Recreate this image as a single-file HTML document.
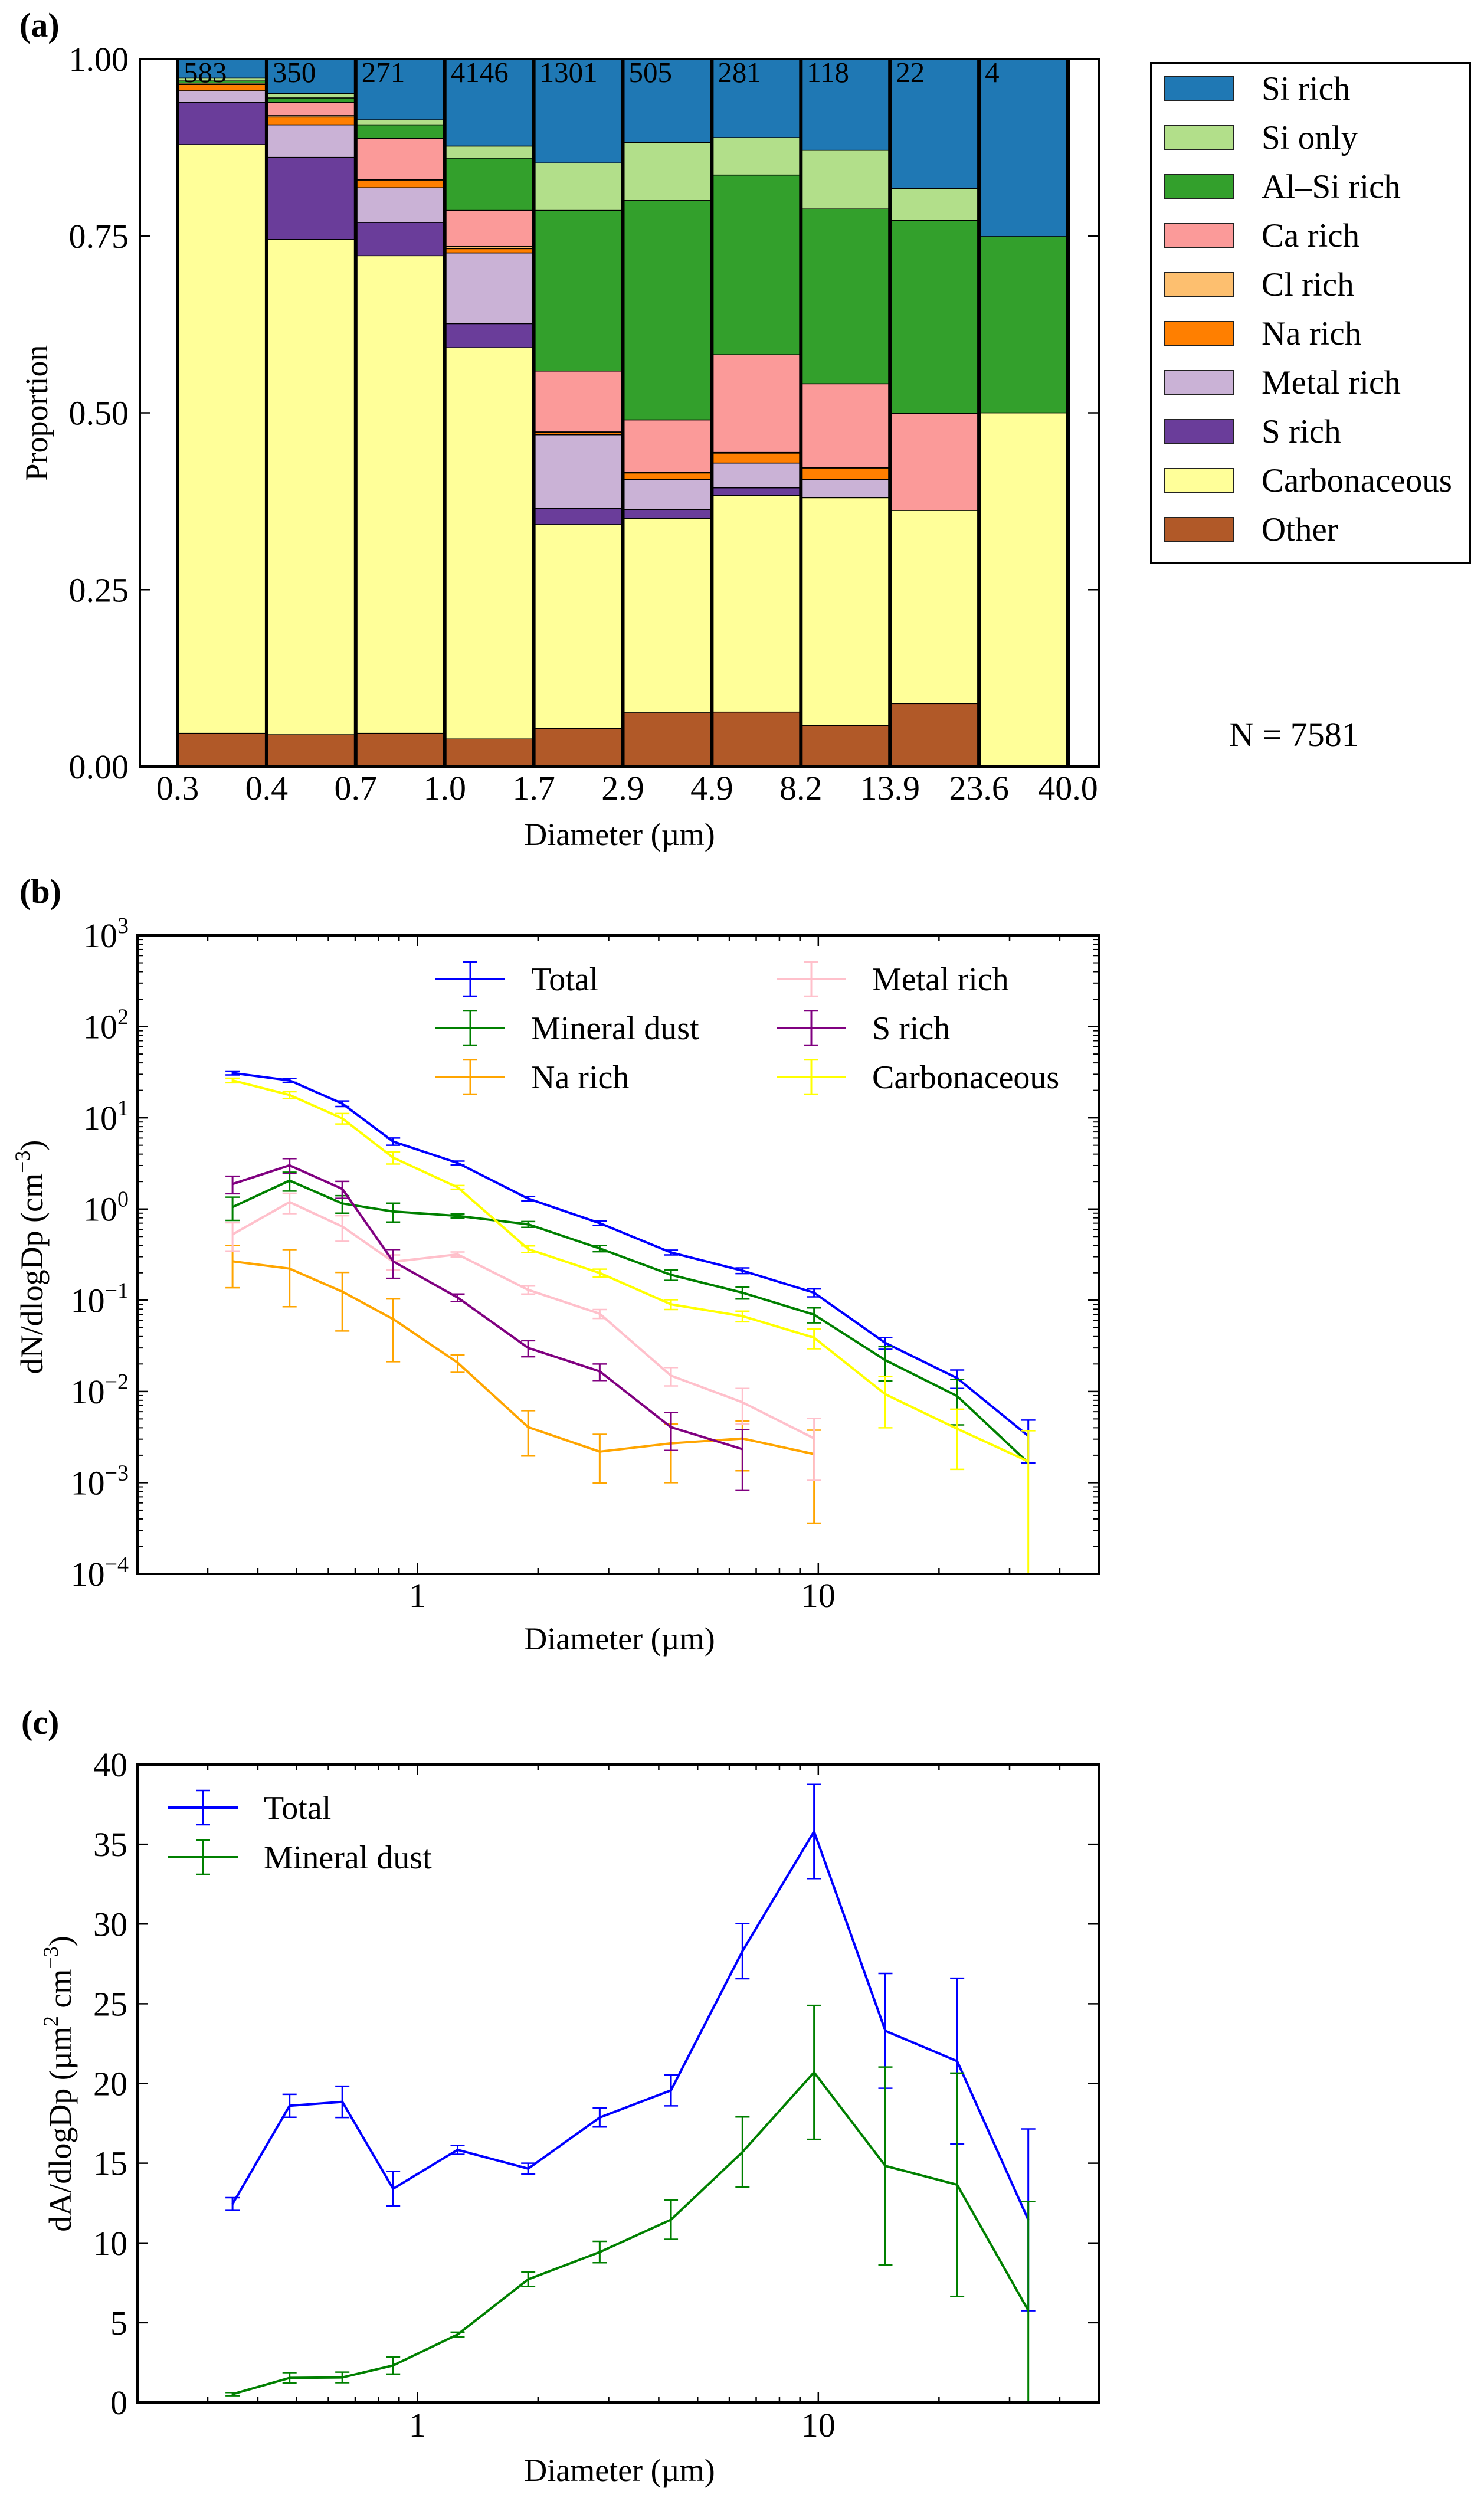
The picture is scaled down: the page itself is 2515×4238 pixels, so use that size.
<!DOCTYPE html>
<html><head><meta charset="utf-8"><style>
html,body{margin:0;padding:0;background:#fff}
svg{display:block}
svg text{font-family:"Liberation Serif","Times New Roman","DejaVu Serif",serif !important;fill:#000}
</style></head><body>
<svg id="fig" xmlns="http://www.w3.org/2000/svg" width="2515" height="4238" viewBox="0 0 2515 4238" font-family="Liberation Serif, DejaVu Serif, serif">
<rect x="0" y="0" width="2515" height="4238" fill="#fff"/>
<g id="pa"></g>
<g id="pb"></g>
<g id="pc"></g>
</svg>
<script>
// ---------- Panel (a) data ----------
const binEdgeLabels = ["0.3","0.4","0.7","1.0","1.7","2.9","4.9","8.2","13.9","23.6","40.0"];
const binCounts = ["583","350","271","4146","1301","505","281","118","22","4"];
const classNames = ["Other","Carbonaceous","S rich","Metal rich","Na rich","Cl rich","Ca rich","Al\u2013Si rich","Si only","Si rich"];
const otherFrac   = [0.047,0.045,0.047,0.039,0.054,0.076,0.077,0.058,0.089,0];
const carbFrac    = [0.832,0.700,0.675,0.553,0.288,0.275,0.306,0.322,0.273,0.5];
const sRichFrac   = [0.060,0.116,0.047,0.034,0.023,0.012,0.011,0,0,0];
const metalFrac   = [0.016,0.046,0.049,0.100,0.104,0.043,0.035,0.026,0,0];
const naFrac      = [0.009,0.011,0.011,0.006,0.003,0.009,0.014,0.016,0,0];
const clFrac      = [0.002,0.002,0.001,0.003,0.001,0.001,0.001,0.001,0,0];
const caFrac      = [0,0.019,0.058,0.051,0.086,0.074,0.138,0.118,0.137,0];
const alSiFrac    = [0.003,0.006,0.019,0.074,0.227,0.310,0.254,0.247,0.273,0.249];
const siOnlyFrac  = [0.004,0.006,0.007,0.017,0.067,0.082,0.053,0.083,0.045,0];
const siRichFrac  = [0.027,0.049,0.086,0.123,0.147,0.118,0.111,0.129,0.183,0.251];
const propTicks = ["0.00","0.25","0.50","0.75","1.00"];
const propTickVals = [0,0.25,0.5,0.75,1];
const legendOrderA = ["Si rich","Si only","Al\u2013Si rich","Ca rich","Cl rich","Na rich","Metal rich","S rich","Carbonaceous","Other"];

// ---------- Panel (b) data ----------
const diam = [0.346,0.48,0.65,0.87,1.26,1.89,2.85,4.29,6.47,9.76,14.7,22.2,33.4];
const totalN = [31,25.7,14.3,5.5,3.2,1.3,0.70,0.334,0.211,0.121,0.034,0.014,0.00325];
const totalNErr = [1.5,1.2,1.0,0.5,0.15,0.07,0.04,0.02,0.015,0.012,0.005,0.0032,0.0016];
const dustN = [1.05,2.05,1.15,0.94,0.84,0.68,0.37,0.19,0.121,0.0695,0.022,0.0089,0.00165];
const dustNErr = [0.3,0.48,0.25,0.22,0.04,0.05,0.03,0.025,0.018,0.013,0.009,0.0046,0];
const naN = [0.267,0.222,0.124,0.0622,0.0207,0.00406,0.00219,0.0027,0.00305,0.00206];
const naNErr = [0.13,0.137,0.078,0.041,0.0045,0.0021,0.0012,0.0017,0.0017,0.0017];
const metalN = [0.527,1.19,0.643,0.264,0.318,0.13,0.0712,0.0149,0.0076,0.00306];
const metalNErr = [0.18,0.3,0.2,0.05,0.02,0.013,0.008,0.0034,0.0032,0.002];
const sN = [1.88,3.01,1.66,0.267,0.107,0.030,0.0166,0.00406,0.00233];
const sNErr = [0.41,0.56,0.35,0.093,0.01,0.006,0.0034,0.0018,0.0015];
const carbN = [25.7,17.8,9.85,3.66,1.73,0.364,0.199,0.0902,0.067,0.0389,0.0093,0.0039,0.00171];
const carbNErr = [1.5,1.5,1.3,0.55,0.08,0.03,0.02,0.011,0.009,0.0095,0.0053,0.0025,0.002];
const logYTickExp = ["\u22124","\u22123","\u22122","\u22121","0","1","2","3"];
const logXTicks = ["1","10"];

// ---------- Panel (c) data ----------
const totalA = [12.44,18.6,18.85,13.4,15.84,14.66,17.87,19.57,28.3,35.8,23.3,21.4,11.45];
const totalAErr = [0.4,0.72,0.98,1.08,0.28,0.34,0.6,0.97,1.73,2.95,3.6,5.2,5.7];
const dustA = [0.52,1.54,1.57,2.32,4.26,7.72,9.43,11.46,15.7,20.7,14.83,13.65,5.76];
const dustAErr = [0.1,0.33,0.33,0.54,0.15,0.46,0.67,1.23,2.2,4.2,6.2,7,6.84];
const linYTicks = ["0","5","10","15","20","25","30","35","40"];

const NS="http://www.w3.org/2000/svg";
const FONT='font-family:"Liberation Serif","Times New Roman","DejaVu Serif",serif';
function mk(parent,tag,attrs,txt){const e=document.createElementNS(NS,tag);for(const k in attrs)e.setAttribute(k,attrs[k]);if(tag==='text')e.setAttribute('style',FONT);if(txt!==undefined)e.textContent=txt;parent.appendChild(e);return e;}

// ===== Panel A =====
(function(){
const g=document.getElementById('pa');
const L=237,R=1862,T=100,B=1299;
const x0=301,x1=1810;
const bw=(x1-x0)/binCounts.length;
const y=v=>B-v*(B-T);
const colors=["#b15928","#ffff99","#6a3d9a","#cab2d6","#ff7f00","#fdbf6f","#fb9a99","#33a02c","#b2df8a","#1f78b4"];
const fracs=[otherFrac,carbFrac,sRichFrac,metalFrac,naFrac,clFrac,caFrac,alSiFrac,siOnlyFrac,siRichFrac];
for(let i=0;i<binCounts.length;i++){
  let cum=0;
  const bx=x0+i*bw;
  for(let c=0;c<fracs.length;c++){
    const f=fracs[c][i]; if(f<=0) continue;
    let top=cum+f; if(c===fracs.length-1) top=1;
    const r=mk(g,'rect',{x:bx,y:y(top),width:bw,height:y(cum)-y(top),fill:colors[c],stroke:'#000','stroke-width':1.5});
    
    
    cum=top;
  }
  const t=mk(g,'text',{x:bx+10,y:139,'font-size':49},binCounts[i]);
  
  
}
for(let i=0;i<=binCounts.length;i++){
  const ln=mk(g,'line',{x1:x0+i*bw,x2:x0+i*bw,y1:T,y2:B,stroke:'#000','stroke-width':6});
  
  
  const t=mk(g,'text',{x:x0+i*bw,y:1355,'font-size':58,'text-anchor':'middle'},binEdgeLabels[i]);
  
  
}
const fr=mk(g,'rect',{x:L,y:T,width:R-L,height:B-T,fill:'none',stroke:'#000','stroke-width':4});


propTickVals.forEach((v,i)=>{
  mk(g,'line',{x1:L,x2:L+18,y1:y(v),y2:y(v),stroke:'#000','stroke-width':2.5});
  mk(g,'line',{x1:R-18,x2:R,y1:y(v),y2:y(v),stroke:'#000','stroke-width':2.5});
  const t=mk(g,'text',{x:218,y:y(v)+20,'font-size':58,'text-anchor':'end'},propTicks[i]);
  
  
});
const yl=mk(g,'text',{x:0,y:0,'font-size':54,'text-anchor':'middle',transform:'translate(80,700) rotate(-90)'},'Proportion');


const xl=mk(g,'text',{x:1050,y:1432,'font-size':54,'text-anchor':'middle'},'Diameter (\u00b5m)');


const pl=mk(g,'text',{x:33,y:62,'font-size':58,'font-weight':'bold'},'(a)');


const lg=mk(g,'g',{});


mk(lg,'rect',{x:1951,y:107,width:540,height:847,fill:'#fff',stroke:'#000','stroke-width':4});
legendOrderA.forEach((nm,i)=>{
  const ci=classNames.indexOf(nm);
  const cy=150+i*83;
  const e=mk(lg,'g',{});
  
  
  mk(e,'rect',{x:1973,y:cy-20,width:118,height:40,fill:colors[ci],stroke:'#222','stroke-width':2});
  mk(e,'text',{x:2138,y:cy+19,'font-size':57},nm);
});
const nt=mk(g,'text',{x:2193,y:1264,'font-size':58,'text-anchor':'middle'},'N = 7581');


})();

// ===== shared log x axis =====
const XL=233,XR=1862;
const lx=d=>707.3+Math.log10(d)*679.5;

function drawXAxisLog(g,T,B,labelY,titleY){
  for(let dec=-1;dec<=1;dec++){
    for(let m=1;m<=9;m++){
      const v=m*Math.pow(10,dec); const px=lx(v);
      if(px<XL+1||px>XR-1) continue;
      const len=(m===1)?18:10;
      mk(g,'line',{x1:px,x2:px,y1:B,y2:B-len,stroke:'#000','stroke-width':2.5});
      mk(g,'line',{x1:px,x2:px,y1:T,y2:T+len,stroke:'#000','stroke-width':2.5});
    }
  }
  logXTicks.forEach(s=>{
    const t=mk(g,'text',{x:lx(parseFloat(s)),y:labelY,'font-size':58,'text-anchor':'middle'},s);
    
    
  });
  const xl=mk(g,'text',{x:1050,y:titleY,'font-size':54,'text-anchor':'middle'},'Diameter (\u00b5m)');
  
  
}

function drawSeries(g,xs,ys,es,color,name,yf,B){
  const sg=mk(g,'g',{});
  
  
  let d='';
  for(let i=0;i<ys.length;i++){d+=(i?'L':'M')+lx(xs[i]).toFixed(1)+','+yf(ys[i]).toFixed(1);}
  mk(sg,'path',{d:d,fill:'none',stroke:color,'stroke-width':4,'stroke-linejoin':'round'});
  for(let i=0;i<ys.length;i++){
    if(!es[i]) continue;
    const px=lx(xs[i]);
    const yt=yf(ys[i]+es[i]);
    let yb=yf(ys[i]-es[i]); let cap=true;
    if(!(yb<=B)||!isFinite(yb)){yb=B;cap=false;}
    const eb=mk(sg,'g',{});
    
    
    mk(eb,'line',{x1:px,x2:px,y1:yt,y2:yb,stroke:color,'stroke-width':3});
    mk(eb,'line',{x1:px-12,x2:px+12,y1:yt,y2:yt,stroke:color,'stroke-width':2.5});
    if(cap) mk(eb,'line',{x1:px-12,x2:px+12,y1:yb,y2:yb,stroke:color,'stroke-width':2.5});
  }
}
function legendItem(g,x,y,color,label){
  const e=mk(g,'g',{});
  
  
  mk(e,'line',{x1:x,x2:x+118,y1:y,y2:y,stroke:color,'stroke-width':4});
  mk(e,'line',{x1:x+59,x2:x+59,y1:y-29,y2:y+29,stroke:color,'stroke-width':3});
  mk(e,'line',{x1:x+47,x2:x+71,y1:y-29,y2:y-29,stroke:color,'stroke-width':2.5});
  mk(e,'line',{x1:x+47,x2:x+71,y1:y+29,y2:y+29,stroke:color,'stroke-width':2.5});
  mk(e,'text',{x:x+162,y:y+19,'font-size':56},label);
}

// ===== Panel B =====
(function(){
const g=document.getElementById('pb');
const T=1585,B=2667;
const dec=(B-T)/7;
const yf=v=>v<=0?Infinity:B-(Math.log10(v)+4)*dec;
const clip=mk(document.getElementById('fig'),'clipPath',{id:'clipb'});
mk(clip,'rect',{x:XL,y:T,width:XR-XL,height:B-T});
const pg=mk(g,'g',{'clip-path':'url(#clipb)'});
drawSeries(pg,diam,totalN,totalNErr,'#0000ff','total',yf,B);
drawSeries(pg,diam,dustN,dustNErr,'#008000','mineral-dust',yf,B);
drawSeries(pg,diam,naN,naNErr,'#ffa500','na-rich',yf,B);
drawSeries(pg,diam,metalN,metalNErr,'#ffc0cb','metal-rich',yf,B);
drawSeries(pg,diam,sN,sNErr,'#800080','s-rich',yf,B);
drawSeries(pg,diam,carbN,carbNErr,'#ffff00','carbonaceous',yf,B);
const fr=mk(g,'rect',{x:XL,y:T,width:XR-XL,height:B-T,fill:'none',stroke:'#000','stroke-width':4});


logYTickExp.forEach((ex,i)=>{
  const py=B-i*dec;
  mk(g,'line',{x1:XL,x2:XL+18,y1:py,y2:py,stroke:'#000','stroke-width':2.5});
  mk(g,'line',{x1:XR-18,x2:XR,y1:py,y2:py,stroke:'#000','stroke-width':2.5});
  if(i<7){for(let m=2;m<=9;m++){const my=py-Math.log10(m)*dec;
    mk(g,'line',{x1:XL,x2:XL+10,y1:my,y2:my,stroke:'#000','stroke-width':2});
    mk(g,'line',{x1:XR-10,x2:XR,y1:my,y2:my,stroke:'#000','stroke-width':2});}}
  const t=mk(g,'text',{x:218,y:py+20,'font-size':58,'text-anchor':'end'});
  
  
  const a=document.createElementNS(NS,'tspan');a.textContent='10';t.appendChild(a);
  const b=document.createElementNS(NS,'tspan');b.setAttribute('dy','-24');b.setAttribute('font-size','38');b.textContent=ex;t.appendChild(b);
});
drawXAxisLog(g,T,B,2723,2795);
const yl=mk(g,'text',{x:0,y:0,'font-size':54,'text-anchor':'middle',transform:'translate(72,2130) rotate(-90)'});


yl.innerHTML='dN/dlogDp (cm<tspan dy="-22" font-size="36">\u22123</tspan><tspan dy="22">)</tspan>';
const pl=mk(g,'text',{x:33,y:1530,'font-size':58,'font-weight':'bold'},'(b)');


const lg=mk(g,'g',{});


legendItem(lg,738,1659,'#0000ff','Total');
legendItem(lg,738,1742,'#008000','Mineral dust');
legendItem(lg,738,1825,'#ffa500','Na rich');
legendItem(lg,1316,1659,'#ffc0cb','Metal rich');
legendItem(lg,1316,1742,'#800080','S rich');
legendItem(lg,1316,1825,'#ffff00','Carbonaceous');
})();

// ===== Panel C =====
(function(){
const g=document.getElementById('pc');
const T=2990,B=4071;
const yf=v=>B-v/40*(B-T);
const clip=mk(document.getElementById('fig'),'clipPath',{id:'clipc'});
mk(clip,'rect',{x:XL,y:T,width:XR-XL,height:B-T});
const pg=mk(g,'g',{'clip-path':'url(#clipc)'});
drawSeries(pg,diam,totalA,totalAErr,'#0000ff','total-area',yf,B);
drawSeries(pg,diam,dustA,dustAErr,'#008000','mineral-dust-area',yf,B);
const fr=mk(g,'rect',{x:XL,y:T,width:XR-XL,height:B-T,fill:'none',stroke:'#000','stroke-width':4});


linYTicks.forEach(s=>{
  const py=yf(parseFloat(s));
  mk(g,'line',{x1:XL,x2:XL+18,y1:py,y2:py,stroke:'#000','stroke-width':2.5});
  mk(g,'line',{x1:XR-18,x2:XR,y1:py,y2:py,stroke:'#000','stroke-width':2.5});
  const t=mk(g,'text',{x:216,y:py+20,'font-size':58,'text-anchor':'end'},s);
  
  
});
drawXAxisLog(g,T,B,4129,4204);
const yl=mk(g,'text',{x:0,y:0,'font-size':54,'text-anchor':'middle',transform:'translate(120,3531) rotate(-90)'});


yl.innerHTML='dA/dlogDp (\u00b5m<tspan dy="-22" font-size="36">2</tspan><tspan dy="22"> cm</tspan><tspan dy="-22" font-size="36">\u22123</tspan><tspan dy="22">)</tspan>';
const pl=mk(g,'text',{x:36,y:2938,'font-size':58,'font-weight':'bold'},'(c)');


const lg=mk(g,'g',{});


legendItem(lg,285,3063,'#0000ff','Total');
legendItem(lg,285,3147,'#008000','Mineral dust');
})();
</script>
</body></html>
